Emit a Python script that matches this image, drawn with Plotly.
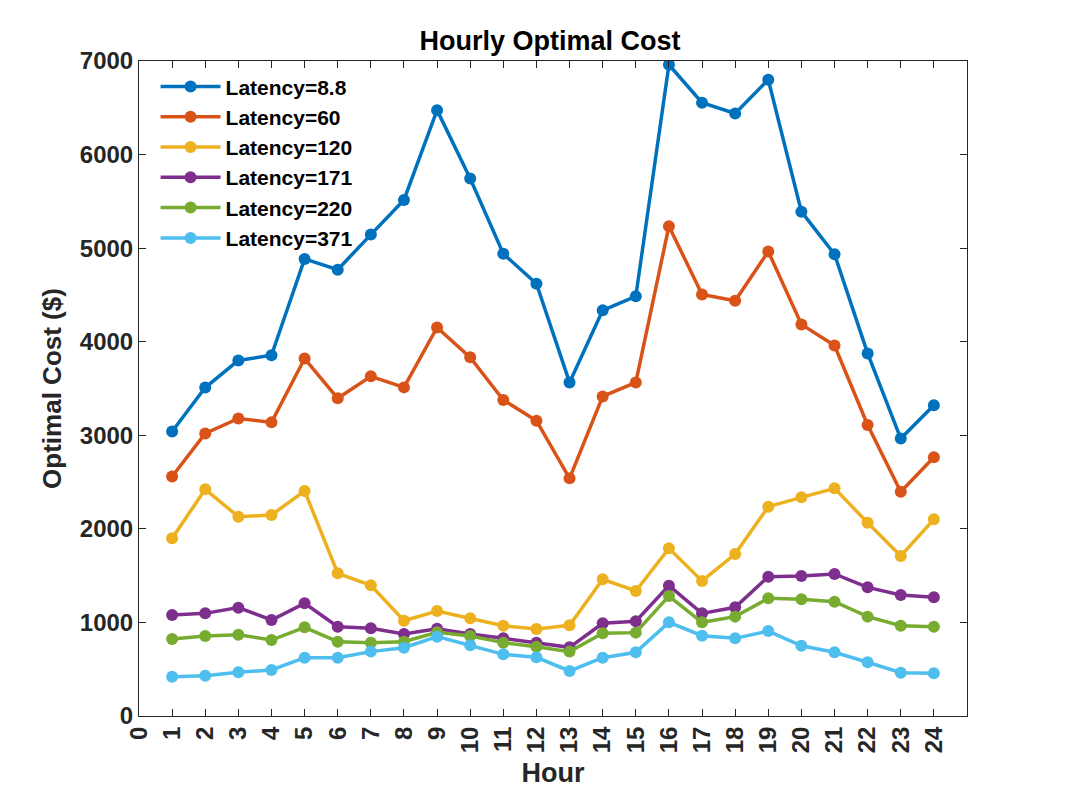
import plotly.graph_objects as go

hours = list(range(1, 25))
tick_hours = list(range(0, 25))

series_names = ["Latency=8.8", "Latency=60", "Latency=120", "Latency=171", "Latency=220", "Latency=371"]
colors = ["#0072BD", "#D95319", "#EDB120", "#7E2F8E", "#77AC30", "#4DBEEE"]

lat_8_8 = [3040, 3510, 3800, 3855, 4885, 4770, 5145, 5515, 6475, 5745, 4940, 4620,
           3565, 4335, 4485, 6960, 6555, 6440, 6800, 5390, 4935, 3875, 2965, 3320]
lat_60 = [2560, 3020, 3180, 3138, 3820, 3395, 3630, 3512, 4152, 3833, 3377, 3156,
          2540, 3415, 3565, 5235, 4505, 4437, 4965, 4185, 3960, 3110, 2397, 2765]
lat_120 = [1900, 2423, 2130, 2148, 2405, 1525, 1397, 1018, 1122, 1044, 965, 930,
           969, 1461, 1336, 1792, 1443, 1731, 2237, 2337, 2433, 2066, 1710, 2102]
lat_171 = [1079, 1097, 1158, 1026, 1204, 954, 937, 876, 933, 876, 830, 783,
           734, 991, 1012, 1393, 1097, 1162, 1489, 1496, 1518, 1375, 1293, 1268]
lat_220 = [823, 855, 869, 812, 948, 794, 784, 794, 894, 855, 784, 741,
           688, 884, 891, 1282, 1001, 1062, 1258, 1247, 1222, 1062, 965, 955]
lat_371 = [420, 431, 467, 492, 623, 623, 688, 730, 848, 755, 659, 627,
           481, 623, 681, 1001, 858, 830, 908, 751, 681, 574, 463, 456]

all_series = [lat_8_8, lat_60, lat_120, lat_171, lat_220, lat_371]

fig = go.Figure()
for name, col, vals in zip(series_names, colors, all_series):
    fig.add_trace(go.Scatter(
        x=hours, y=vals, name=name, mode="lines+markers",
        line=dict(color=col, width=3.5),
        marker=dict(color=col, size=12),
    ))

axis_col = "#262626"
fig.update_layout(
    width=1070, height=804,
    margin=dict(l=139, r=103, t=61, b=88),
    paper_bgcolor="white", plot_bgcolor="white",
    font=dict(family="Liberation Sans, Arial, sans-serif", color=axis_col, weight="bold"),
    title=dict(text="Hourly Optimal Cost", x=550/1070, xanchor="center",
               y=1 - 41/804, yanchor="middle",
               font=dict(size=27, color="black", weight="bold")),
    showlegend=True,
    legend=dict(x=0.02, y=0.992, xanchor="left", yanchor="top",
                bgcolor="rgba(0,0,0,0)", borderwidth=0,
                font=dict(size=21, color="black", weight="bold"),
                tracegroupgap=0, itemwidth=60),
)
fig.update_xaxes(
    range=[0, 25], tickmode="array", tickvals=tick_hours,
    ticktext=[str(h) for h in tick_hours], tickangle=-90,
    ticks="inside", ticklen=7, tickcolor=axis_col, tickwidth=1,
    showline=True, linecolor=axis_col, linewidth=1, mirror="ticks",
    showgrid=False, zeroline=False,
    tickfont=dict(size=24, weight="bold"),
    title=dict(text="Hour", font=dict(size=27, weight="bold"), standoff=10),
)
fig.update_yaxes(
    range=[0, 7000], tick0=0, dtick=1000,
    ticks="inside", ticklen=7, tickcolor=axis_col, tickwidth=1,
    showline=True, linecolor=axis_col, linewidth=1, mirror="ticks",
    showgrid=False, zeroline=False,
    tickfont=dict(size=24, weight="bold"),
    title=dict(text="Optimal Cost ($)", font=dict(size=26, weight="bold"), standoff=10),
)

fig.write_html("out.html")
